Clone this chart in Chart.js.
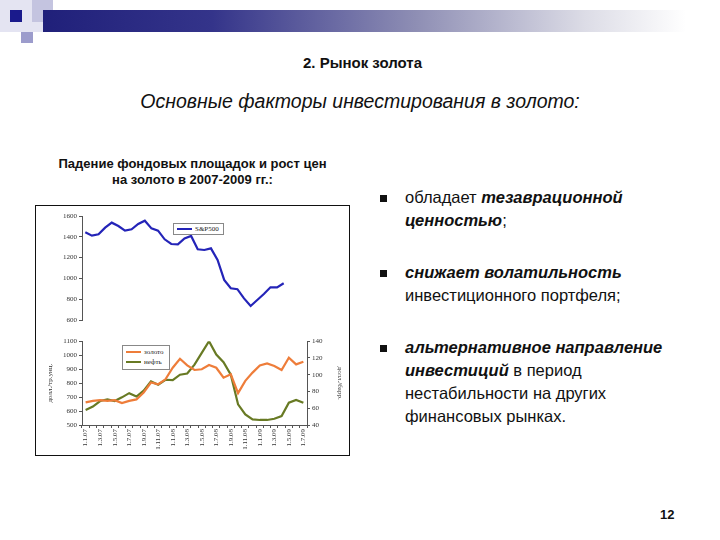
<!DOCTYPE html>
<html>
<head>
<meta charset="utf-8">
<script src="https://cdn.jsdelivr.net/npm/chart.js@4.4.1/dist/chart.umd.min.js"></script>
<style>
  body { margin: 0; width: 720px; height: 540px; background: #fff; position: relative; overflow: hidden; font-family: "Liberation Sans", Arial, sans-serif; color: #111; }
  .abs { position: absolute; }
  .legend { position: absolute; background: #fff; border: 1px solid #888; font-family: "Liberation Serif", serif; font-size: 7px; color: #222; z-index: 2; }
  .legend .row { display: flex; align-items: center; height: 10px; }
  .legend .ln { width: 15px; height: 2px; margin: 0 3px 0 3px; }
  .bul { position: absolute; left: 380px; width: 7px; height: 7px; background: #111; }
  .txt { position: absolute; left: 405px; font-size: 16.5px; line-height: 23px; white-space: nowrap; }
</style>
</head>
<body>
<!-- украшение слайда -->
<div class="abs" style="left:0;top:0;width:43px;height:32px;background:#e4e4f2"></div>
<div class="abs" style="left:32px;top:0;width:21px;height:22px;background:#c4c4e0"></div>
<div class="abs" style="left:10px;top:10px;width:12px;height:12px;background:#1a1a8c"></div>
<div class="abs" style="left:21px;top:32px;width:12px;height:11px;background:#9c9ccc"></div>
<div class="abs" style="left:43px;top:10px;width:677px;height:22px;background:linear-gradient(to right,#20207a 0%,#34348a 25%,#8e8eb4 55%,#dcdce6 80%,#fff 95%)"></div>

<div class="abs" style="left:0;width:725px;top:54px;text-align:center;font-size:15px;font-weight:bold">2. Рынок золота</div>
<div class="abs" style="left:0;width:720px;top:90px;text-align:center;font-size:19.5px;font-style:italic">Основные факторы инвестирования в золото:</div>
<div class="abs" style="left:40px;width:305px;top:156px;text-align:center;font-size:13px;font-weight:bold;line-height:16px">Падение фондовых площадок и рост цен<br>на золото в 2007-2009 гг.:</div>

<div class="bul" style="top:195px"></div>
<div class="txt" style="top:186px">обладает <b><i>тезаврационной</i></b><br><b><i>ценностью</i></b>;</div>
<div class="bul" style="top:270px"></div>
<div class="txt" style="top:261px"><b><i>снижает волатильность</i></b><br>инвестиционного портфеля;</div>
<div class="bul" style="top:345px"></div>
<div class="txt" style="top:336px"><b><i>альтернативное направление</i></b><br><b><i>инвестиций</i></b> в период<br>нестабильности на других<br>финансовых рынках.</div>

<div class="abs" style="left:660px;top:507px;font-size:13px;font-weight:bold">12</div>

<!-- рамка графика -->
<div class="abs" style="left:35px;top:205px;width:313px;height:249px;border:1.5px solid #111"></div>
<canvas id="top" class="abs" width="305" height="120" style="left:40px;top:208px"></canvas>
<canvas id="bottom" class="abs" width="305" height="118" style="left:40px;top:335px"></canvas>

<div class="legend" style="left:173px;top:223px;width:49px;height:10px">
  <div class="row"><span class="ln" style="background:#2424b8"></span>S&amp;P500</div>
</div>
<div class="legend" style="left:122px;top:345px;width:46px;height:22px;padding-top:1px">
  <div class="row"><span class="ln" style="background:#ee7d3a"></span>золото</div>
  <div class="row"><span class="ln" style="background:#687a24"></span>нефть</div>
</div>

<script>
const months = ['1.1.07', '1.2.07', '1.3.07', '1.4.07', '1.5.07', '1.6.07', '1.7.07', '1.8.07', '1.9.07', '1.10.07', '1.11.07', '1.12.07',
    '1.1.08', '1.2.08', '1.3.08', '1.4.08', '1.5.08', '1.6.08', '1.7.08', '1.8.08', '1.9.08', '1.10.08', '1.11.08', '1.12.08',
    '1.1.09', '1.2.09', '1.3.09', '1.4.09', '1.5.09', '1.6.09', '1.7.09'];

const sp500 = [1443, 1411, 1424, 1488, 1536, 1504, 1459, 1472, 1523, 1555, 1481, 1459,
    1376, 1331, 1328, 1385, 1408, 1280, 1273, 1289, 1177, 985, 905, 896,
    808, 735, 792, 850, 914, 914, 953];

// золото, долл./унц. (левая ось)
const gold = [662, 673, 678, 673, 678, 657, 673, 683, 733, 804, 792, 827,
    910, 974, 927, 894, 899, 929, 910, 839, 863, 728, 816, 875,
    927, 941, 923, 894, 982, 934, 953];

// нефть, долл./барр. (правая ось)
const oil = [58, 62, 68.6, 70.5, 68.6, 73, 78, 74, 81, 92, 88, 94,
    93.5, 100, 101.5, 112, 126, 140, 124, 115, 100, 64.6, 52.7, 46.7,
    46, 46, 47.5, 50.7, 66.6, 70, 66.6];

const axisColor = '#555';
const tickFont = { family: 'Liberation Serif', size: 7 };

function yAxis(min, max, step, width, extra) {
    return Object.assign({
        min: min,
        max: max,
        ticks: { stepSize: step, font: tickFont, color: '#333', padding: 2, callback: v => String(v) },
        grid: { drawOnChartArea: false, tickLength: 3, color: axisColor },
        border: { color: axisColor },
        afterFit: s => { s.width = width; }
    }, extra || {});
}

new Chart(document.getElementById('top'), {
    type: 'line',
    data: {
        labels: months,
        datasets: [{
            label: 'S&P500',
            data: sp500,
            borderColor: '#2424b8',
            borderWidth: 2.2,
            pointRadius: 0,
            tension: 0
        }]
    },
    options: {
        responsive: false,
        animation: false,
        layout: { padding: { top: 8, right: 58, bottom: 8, left: 0 } },
        plugins: { legend: { display: false }, tooltip: { enabled: false } },
        scales: {
            x: { display: false, offset: true },
            y: yAxis(600, 1600, 200, 42)
        }
    }
});

new Chart(document.getElementById('bottom'), {
    type: 'line',
    data: {
        labels: months,
        datasets: [{
            label: 'золото',
            data: gold,
            yAxisID: 'y',
            borderColor: '#ee7d3a',
            borderWidth: 2.2,
            pointRadius: 0,
            tension: 0
        }, {
            label: 'нефть',
            data: oil,
            yAxisID: 'y1',
            borderColor: '#687a24',
            borderWidth: 2.2,
            pointRadius: 0,
            tension: 0
        }]
    },
    options: {
        responsive: false,
        animation: false,
        layout: { padding: { top: 6, right: 0, bottom: 0, left: 0 } },
        plugins: { legend: { display: false }, tooltip: { enabled: false } },
        scales: {
            x: {
                offset: true,
                grid: { offset: true, drawOnChartArea: false, tickLength: 3, color: axisColor },
                border: { color: axisColor },
                ticks: {
                    autoSkip: false, maxRotation: 90, minRotation: 90, padding: 1,
                    font: tickFont, color: '#333',
                    callback: (v, i) => i % 2 === 0 ? months[i] : ''
                },
                afterFit: s => { s.height = 28; }
            },
            y: yAxis(500, 1100, 100, 42, {
                position: 'left',
                title: { display: true, text: 'долл./тр.унц.', font: tickFont, color: '#333', padding: { top: 6, bottom: 1 } }
            }),
            y1: yAxis(40, 140, 20, 38, {
                position: 'right',
                title: { display: true, text: 'долл./барр.', font: tickFont, color: '#333', padding: 1 }
            })
        }
    }
});
</script>
</body>
</html>
